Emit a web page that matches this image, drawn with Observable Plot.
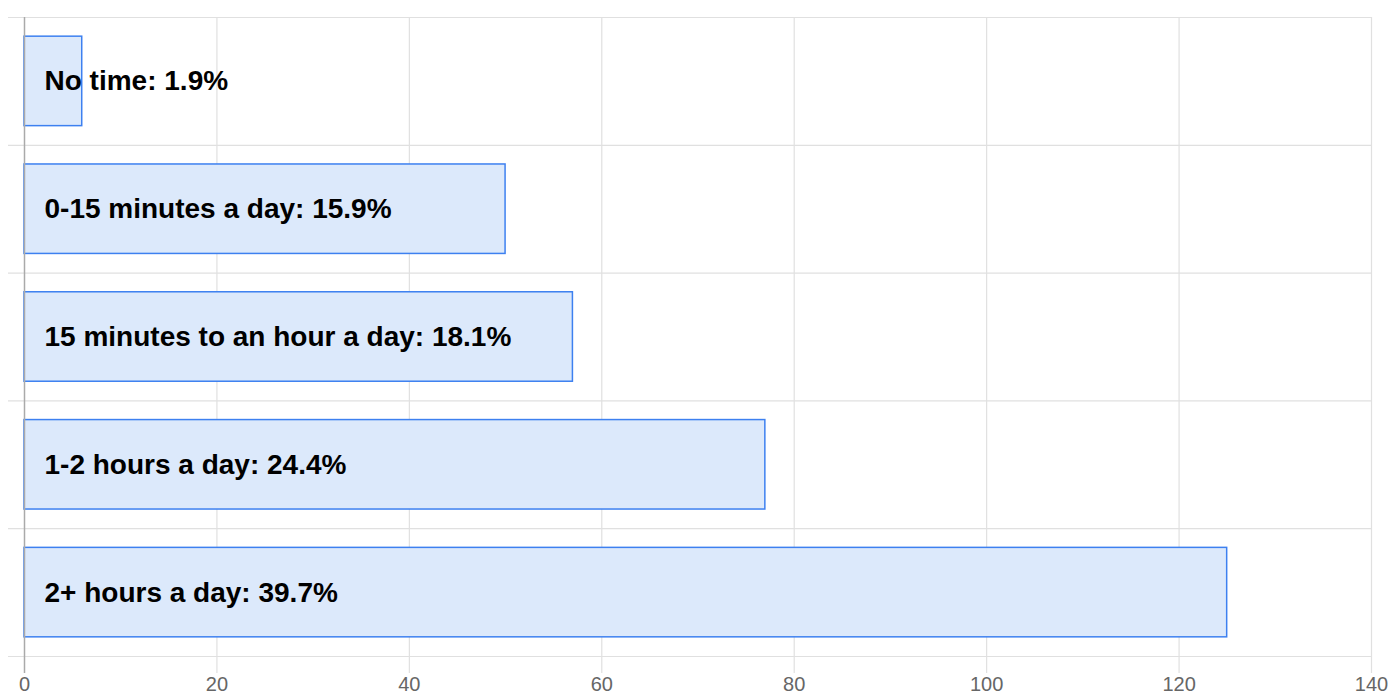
<!DOCTYPE html>
<html><head><meta charset="utf-8">
<script src="https://cdn.jsdelivr.net/npm/d3@7"></script>
<script src="https://cdn.jsdelivr.net/npm/@observablehq/plot@0.6"></script>
<style>body{margin:0;background:#fff}</style>
</head><body><div id="chart"></div>
<script>
const categories = ["No time", "0-15 minutes a day", "15 minutes to an hour a day", "1-2 hours a day", "2+ hours a day"];
const counts = [6, 50, 57, 77, 125];
const percents = [1.9, 15.9, 18.1, 24.4, 39.7];
const xTicks = [0, 20, 40, 60, 80, 100, 120, 140];

const data = categories.map((c, i) => ({category: c, count: counts[i], percent: percents[i], index: i}));
const rows = d3.range(categories.length + 1);
const n = categories.length;

const chart = Plot.plot({
  width: 1389, height: 695,
  marginTop: 17, marginBottom: 39, marginLeft: 24, marginRight: 18,
  x: {domain: [0, 140], ticks: xTicks, label: null},
  y: {domain: [0, n], reverse: true, axis: null},
  style: {fontFamily: "'Liberation Sans', Arial, Helvetica, sans-serif", fontSize: "20px", background: "#fff", overflow: "visible"},
  marks: [
    Plot.ruleY(rows, {y: d => d, x1: 0, x2: 140, stroke: "#e0e0e0", strokeWidth: 1.2, insetLeft: -16}),
    Plot.ruleX(xTicks.filter(t => t > 0), {x: d => d, y1: 0, y2: n, stroke: "#e0e0e0", strokeWidth: 1.2, insetBottom: -17}),
    Plot.rectX(data, {x1: 0, x2: "count", y1: d => d.index + 0.15, y2: d => d.index + 0.85, fill: "#dce9fb", stroke: "#3d80f0", strokeWidth: 1.5}),
    Plot.ruleX([0], {y1: 0, y2: n, stroke: "#aaaaaa", strokeWidth: 1.5, insetBottom: -17}),
    Plot.text(data, {x: 0, y: d => d.index + 0.5, text: d => `${d.category}: ${d.percent}%`, textAnchor: "start", dx: 20, fontSize: 28, fontWeight: "bold", fill: "#000"}),
    Plot.axisX({ticks: xTicks, tickSize: 0, tickPadding: 20, fontSize: 20, fill: "#666", label: null})
  ]
});
document.getElementById("chart").appendChild(chart);
</script>
</body></html>
